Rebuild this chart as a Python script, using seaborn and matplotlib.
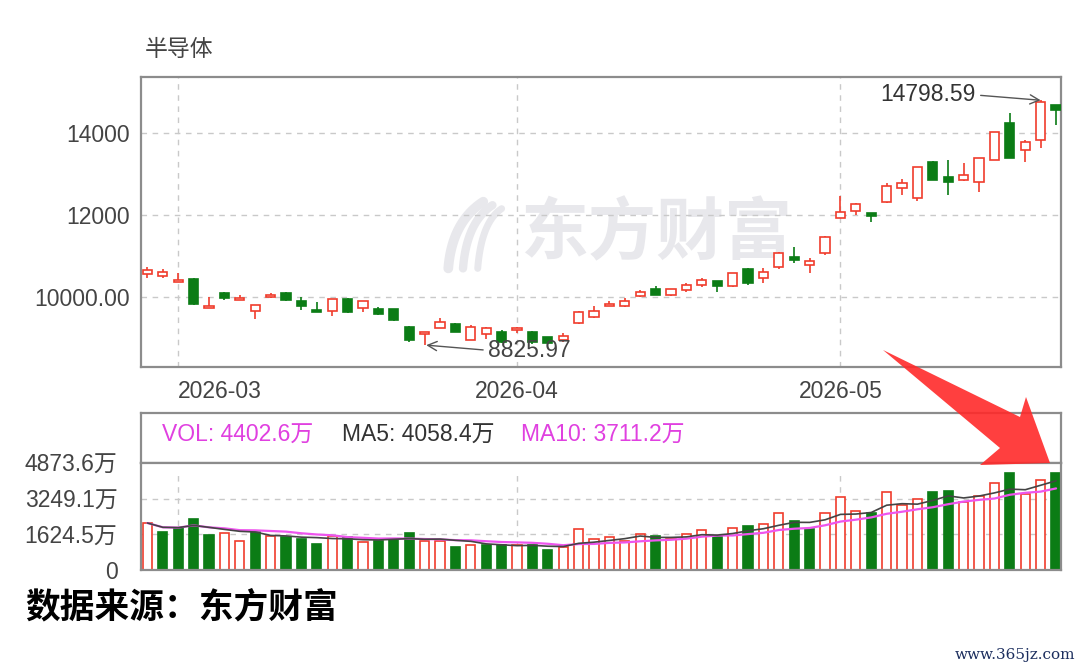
import numpy as np
import pandas as pd
import matplotlib
matplotlib.use('Agg')
import matplotlib.pyplot as plt
import seaborn as sns
from matplotlib.patches import Polygon

# price data (daily OHLC)
opens = [10553, 10512, 10366, 10431, 9723, 10089, 9919, 9667, 10008, 10106,
         9910, 9683, 9658, 9943, 9740, 9715, 9699, 9276, 9097, 9252,
         9341, 8951, 9097, 9154, 9195, 9154, 9016, 8951, 9358, 9504,
         9780, 9780, 10024, 10187, 10041, 10171, 10293, 10390, 10268, 10674,
         10455, 10740, 10984, 10781, 11065, 11919, 12106, 12041, 12326, 12651,
         12407, 13301, 12935, 12854, 12813, 13342, 14236, 13586, 13830, 14683]
highs = [10740, 10675, 10593, 10455, 10008, 10130, 10049, 9805, 10089, 10130,
         10008, 9886, 9943, 9967, 9902, 9748, 9715, 9301, 9154, 9480,
         9360, 9317, 9276, 9195, 9276, 9179, 9032, 9114, 9658, 9780,
         9910, 9967, 10171, 10268, 10187, 10333, 10455, 10390, 10593, 10699,
         10699, 11106, 11228, 10943, 11488, 12464, 12301, 12041, 12789, 12870,
         13163, 13326, 13342, 13277, 13399, 14033, 14480, 13830, 14798.59, 14683]
lows = [10455, 10455, 10366, 9797, 9723, 9927, 9919, 9455, 9967, 9910,
        9683, 9642, 9536, 9618, 9642, 9569, 9423, 8910, 8825.97, 9236,
        9140, 8951, 8967, 8870, 9114, 8850, 8850, 8910, 9341, 9480,
        9780, 9764, 9992, 10049, 10024, 10130, 10252, 10130, 10252, 10293,
        10333, 10675, 10821, 10577, 11024, 11919, 12000, 11838, 12301, 12488,
        12350, 12854, 12488, 12838, 12569, 13342, 13382, 13301, 13627, 14196]
closes = [10658, 10618, 10414, 9829, 9780, 9967, 9980, 9805, 10049, 9927,
          9780, 9642, 9943, 9634, 9902, 9585, 9439, 8951, 9154, 9398,
          9154, 9276, 9236, 8910, 9236, 8900, 8870, 9049, 9642, 9666,
          9829, 9910, 10130, 10049, 10187, 10293, 10414, 10268, 10577, 10350,
          10618, 11065, 10903, 10880, 11472, 12082, 12269, 11976, 12708, 12773,
          13163, 12854, 12813, 12976, 13399, 14033, 13382, 13789, 14765, 14561]
# volume in 万
volumes = [2140, 1749, 1905, 2327, 1593, 1671, 1312, 1749, 1546, 1484,
           1390, 1202, 1546, 1484, 1281, 1327, 1359, 1702, 1327, 1327,
           1046, 1124, 1124, 1124, 1124, 1124, 921, 1046, 1858, 1390,
           1520, 1327, 1640, 1546, 1390, 1640, 1827, 1546, 1905, 2015,
           2108, 2608, 2218, 1890, 2608, 3342, 2686, 2577, 3545, 2952,
           3233, 3545, 3600, 3077, 3389, 3950, 4400, 3467, 4092, 4402.6]

month_pos = [2, 24, 45]
month_labels = ['2026-03', '2026-04', '2026-05']
price_ticks = [10000, 12000, 14000]
price_tick_labels = ['10000.00', '12000', '14000']
vol_ticks = [0, 1624.5, 3249.1, 4873.6]
vol_tick_labels = ['0', '1624.5万', '3249.1万', '4873.6万']
legend_vol, legend_ma5, legend_ma10 = '4402.6', '4058.4', '3711.2'
max_label, min_label = '14798.59', '8825.97'

df = pd.DataFrame({'open': opens, 'high': highs, 'low': lows,
                   'close': closes, 'vol': volumes})
df['idx'] = np.arange(len(df))
df['ma5'] = df['vol'].rolling(5, min_periods=1).mean()
df['ma10'] = df['vol'].rolling(10, min_periods=1).mean()
df['up'] = df['close'] >= df['open']
df['vol_up'] = df['close'] >= df['close'].shift(1).fillna(df['open'])

sns.set_theme(style='white')
plt.rcParams['font.family'] = ['Liberation Sans', 'Noto Sans CJK SC', 'DejaVu Sans']

RED = '#f03c2c'
GREEN = '#0b7c15'
FRAME = '#8c8c8c'
GRID = '#c9c9c9'
TXT = '#444444'
WMARK = '#e8e8ec'

W, H = 1084, 670
fig = plt.figure(figsize=(W / 100, H / 100), dpi=100)
fig.patch.set_facecolor('white')

def fx(px):
    return px / W

def fy(py):
    return 1 - py / H

ax = fig.add_axes([fx(141), fy(367), 920 / W, 290 / H])
axl = fig.add_axes([fx(141), fy(463), 920 / W, 50 / H])
axv = fig.add_axes([fx(141), fy(570), 920 / W, 107 / H])

xlim = (-0.42, 59.32)

# candles
for _, r in df.iterrows():
    c = RED if r['up'] else GREEN
    ax.vlines(r['idx'], r['low'], r['high'], color=c, lw=1.2, zorder=2)
    ax.bar(r['idx'], max(abs(r['close'] - r['open']), 30), bottom=min(r['open'], r['close']),
           width=0.6, facecolor='white' if r['up'] else GREEN, edgecolor=c, lw=1.2, zorder=3)

ax.set_xlim(*xlim)
ax.set_ylim(8293, 15366)
ax.set_yticks(price_ticks)
ax.set_yticklabels(price_tick_labels)
ax.set_xticks(month_pos)
ax.set_xticklabels(month_labels)
ax.get_xticklabels()[0].set_ha('left')
ax.tick_params(axis='both', length=0, labelsize=16.5, labelcolor=TXT)
ax.tick_params(axis='y', pad=8)
ax.tick_params(axis='x', pad=9)
for y in price_ticks:
    ax.axhline(y, color=GRID, lw=1, ls=(0, (4, 4)), zorder=1)
for x in month_pos:
    ax.axvline(x, color=GRID, lw=1, ls=(0, (4, 4)), zorder=1)

# watermark: logo stripes + name
t = np.linspace(0, 1, 30)
for k in range(3):
    p0 = np.array([0.334 + k * 0.016, 0.34])
    p1 = np.array([0.338 + k * 0.016, 0.50])
    p2 = np.array([0.372 + k * 0.010, 0.57 - k * 0.012])
    pts = ((1 - t) ** 2)[:, None] * p0 + (2 * (1 - t) * t)[:, None] * p1 + (t ** 2)[:, None] * p2
    ax.plot(pts[:, 0], pts[:, 1], transform=ax.transAxes, color=WMARK, lw=7 - k,
            solid_capstyle='round', zorder=0.5)
ax.text(0.412, 0.455, '东方财富', transform=ax.transAxes, fontsize=49, fontweight='bold',
        family=['Noto Sans CJK SC'], color=WMARK, va='center', ha='left', zorder=0.5)

ax.annotate(max_label, xy=(58, 14798.59), xytext=(53.8, 14927), ha='right', va='center',
            fontsize=16.5, color='#333333',
            arrowprops=dict(arrowstyle='->', color='#555555', lw=1, relpos=(1, 0.5),
                            shrinkA=1, shrinkB=0))
ax.annotate(min_label, xy=(18.1, 8825.97), xytext=(22.1, 8700), ha='left', va='center',
            fontsize=16.5, color='#444444',
            arrowprops=dict(arrowstyle='->', color='#555555', lw=1, relpos=(0, 0.5),
                            shrinkA=1, shrinkB=0))

# volume legend box
axl.set_xlim(0, 1)
axl.set_ylim(0, 1)
axl.set_xticks([])
axl.set_yticks([])
axl.text(0.023, 0.55, f'VOL: {legend_vol}万', color='#e040e0', fontsize=16.5, va='center')
axl.text(0.218, 0.55, f'MA5: {legend_ma5}万', color='#333333', fontsize=16.5, va='center')
axl.text(0.413, 0.55, f'MA10: {legend_ma10}万', color='#e040e0', fontsize=16.5, va='center')

# volume bars
for _, r in df.iterrows():
    if r['vol_up']:
        axv.bar(r['idx'], r['vol'], width=0.6, facecolor='white', edgecolor=RED, lw=1.2, zorder=2)
    else:
        axv.bar(r['idx'], r['vol'], width=0.6, facecolor=GREEN, edgecolor=GREEN, lw=1.2, zorder=2)
sns.lineplot(data=df, x='idx', y='ma10', ax=axv, color='#ee55ee', lw=1.6, zorder=3)
sns.lineplot(data=df, x='idx', y='ma5', ax=axv, color='#444444', lw=1.2, zorder=4)
axv.set_xlim(*xlim)
axv.set_ylim(0, 4873.6)
axv.set_yticks(vol_ticks)
axv.set_yticklabels(vol_tick_labels)
axv.set_xticks([])
axv.set_xlabel('')
axv.set_ylabel('')
axv.tick_params(axis='y', length=0, labelsize=16.5, labelcolor=TXT, pad=17)
for y in vol_ticks[1:3]:
    axv.axhline(y, color=GRID, lw=1, ls=(0, (4, 4)), zorder=1)
for x in month_pos:
    axv.axvline(x, ymax=0.93, color=GRID, lw=1, ls=(0, (4, 4)), zorder=1)

for a in (ax, axl, axv):
    a.set_facecolor('white')
    for s in a.spines.values():
        s.set_visible(True)
        s.set_color(FRAME)
        s.set_linewidth(1.6)

fig.text(fx(145), fy(50), '半导体', fontsize=16.5, color=TXT, va='center', ha='left',
         family=['Noto Sans CJK SC'])
fig.text(fx(25), fy(607), '数据来源：东方财富', fontsize=25, fontweight='bold', color='black',
         va='center', ha='left', family=['Noto Sans CJK SC'])
fig.text(fx(1075), fy(655), 'www.365jz.com', fontsize=11, color='#1c2e5e', va='center',
         ha='right', family=['DejaVu Serif'])

# big red pointer arrow
arrow_px = [(883, 350), (1020, 417), (1026, 397), (1050, 463), (980, 465), (1000, 448)]
fig.patches.append(Polygon([(fx(x), fy(y)) for x, y in arrow_px], closed=True,
                           transform=fig.transFigure, facecolor='#ff2a2a', alpha=0.9,
                           edgecolor='none', zorder=10))

fig.savefig('out.png', dpi=100)
